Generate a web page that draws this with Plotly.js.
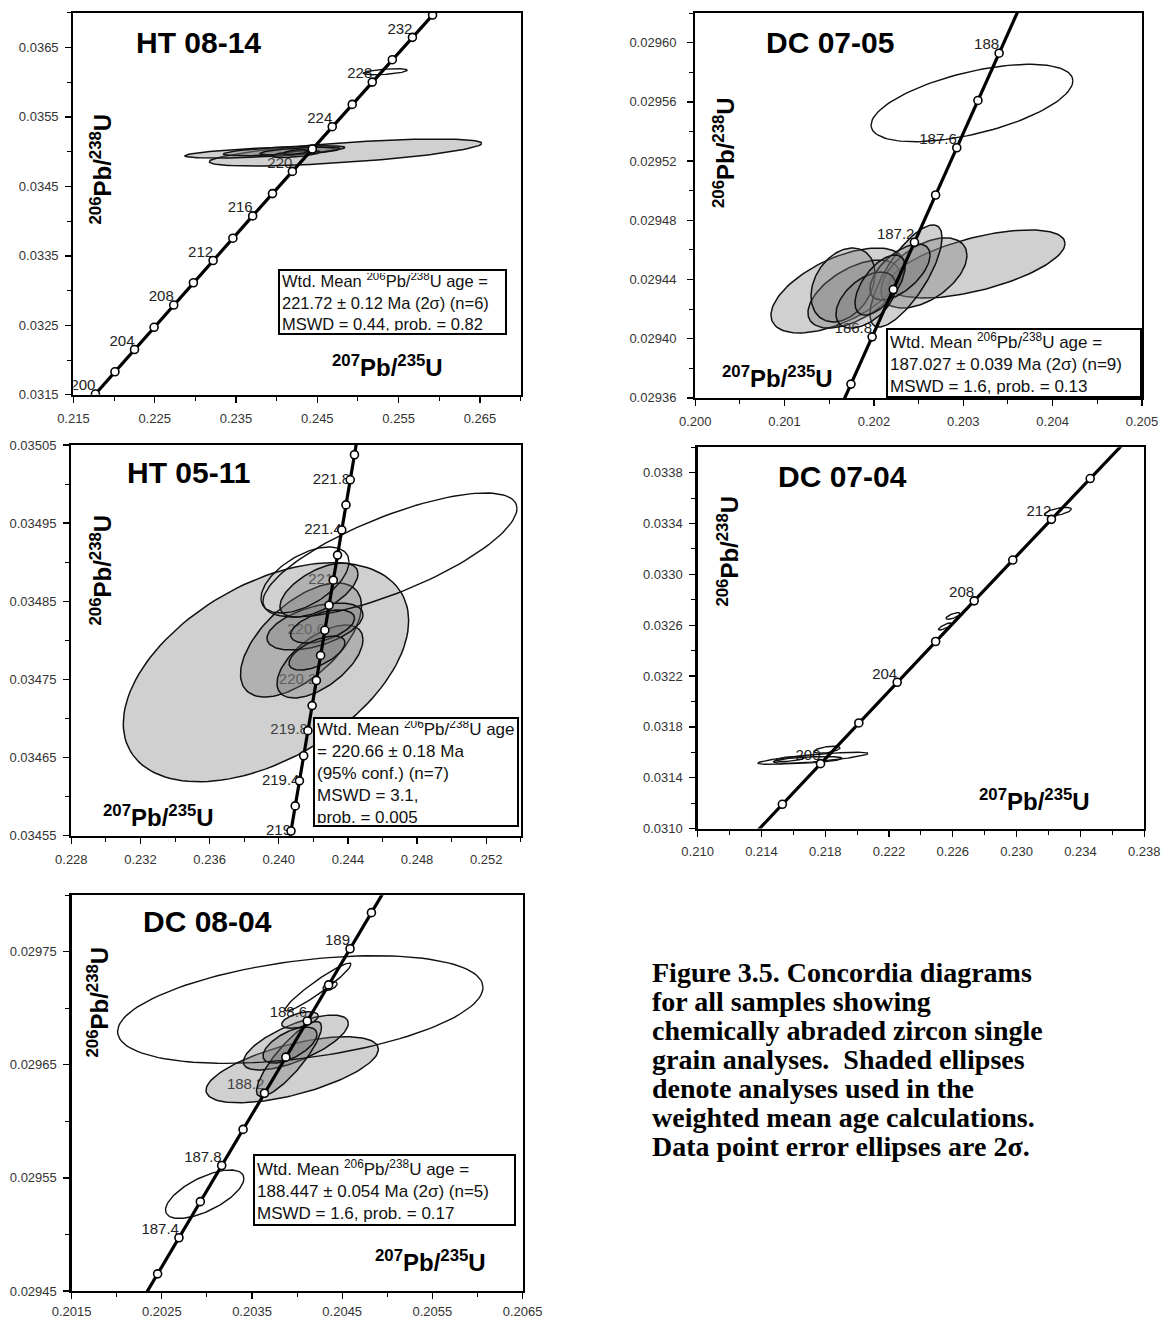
<!DOCTYPE html>
<html><head><meta charset="utf-8">
<script src="https://cdn.plot.ly/plotly-3.0.1.min.js"></script>
<style>html,body{margin:0;padding:0;background:#fff}#chart{width:1163px;height:1319px}</style>
</head><body><div id="chart"></div>
<script>
// ---------------- DATA ----------------
// HT 08-14 concordia (age in Ma, 207Pb/235U, 206Pb/238U)
const ht0814Ages = [200,202,204,206,208,210,212,214,216,218,220,222,224,226,228,230,232,234];
const ht0814X = [0.2177075,0.2201084,0.2225140,0.2249244,0.2273394,0.2297594,0.2321840,0.2346135,0.2370477,0.2394866,0.2419305,0.2443792,0.2468329,0.2492911,0.2517543,0.2542224,0.2566953,0.2591729];
const ht0814Y = [0.031511,0.031831,0.032151,0.032472,0.032792,0.033113,0.033433,0.033754,0.034075,0.034396,0.034716,0.035038,0.035359,0.035680,0.036001,0.036323,0.036645,0.036966];
const ht0814Labels = [200,204,208,212,216,220,224,228,232];
// HT 08-14 ellipses (centre, half-widths, correlation)
const ht0814ShadedCx = [0.248469,0.237952,0.240929,0.242872,0.242356,0.242380];
const ht0814ShadedCy = [0.0349873,0.0349873,0.0350132,0.0350089,0.0349657,0.0349945];
const ht0814ShadedSx = [0.016753,0.009225,0.007478,0.004920,0.002952,0.001476];
const ht0814ShadedSy = [0.0001943,0.0000792,0.0000720,0.0000576,0.0000504,0.0000360];
const ht0814ShadedRho = [0.68,0.6,0.65,0.6,0.6,0.5];
const ht0814OpenCx = [0.253364];
const ht0814OpenCy = [0.0361503];
const ht0814OpenSx = [0.002706];
const ht0814OpenSy = [0.0000432];
const ht0814OpenRho = [0.5];

// DC 07-05
const dc0705Ages = [186.4,186.6,186.8,187.0,187.2,187.4,187.6,187.8,188.0,188.2];
const dc0705X = [0.2015063,0.2017430,0.2019797,0.2022165,0.2024534,0.2026902,0.2029271,0.2031641,0.2034011,0.2036381];
const dc0705Y = [0.02933738,0.02936932,0.02940126,0.02943320,0.02946515,0.02949709,0.02952903,0.02956098,0.02959292,0.02962486];
const dc0705Labels = [186.8,187.2,187.6,188.0];
const dc0705ShadedCx = [0.203154,0.201598,0.201777,0.202560,0.202359,0.201654,0.202292,0.201911,0.202068];
const dc0705ShadedCy = [0.0294505,0.0294326,0.0294302,0.0294444,0.0294424,0.0294363,0.0294451,0.0294261,0.0294363];
const dc0705ShadedSx = [0.000985,0.000750,0.000515,0.000481,0.000403,0.000358,0.000336,0.000336,0.000280];
const dc0705ShadedSy = [0.0000230,0.0000287,0.0000230,0.0000237,0.0000345,0.0000250,0.0000189,0.0000189,0.0000203];
const dc0705ShadedRho = [0.6,0.58,0.55,0.5,0.75,0.3,0.6,0.5,0.6];
const dc0705OpenCx = [0.203097];
const dc0705OpenCy = [0.02955926];
const dc0705OpenSx = [0.001129];
const dc0705OpenSy = [0.00002615];
const dc0705OpenRho = [0.57];

// HT 05-11
const ht0511Ages = [218.8,219.0,219.2,219.4,219.6,219.8,220.0,220.2,220.4,220.6,220.8,221.0,221.2,221.4,221.6,221.8,222.0,222.2];
const ht0511X = [0.24046361,0.24070796,0.24095237,0.24119682,0.24144133,0.24168587,0.24193047,0.24217511,0.24241981,0.24266456,0.24290935,0.24315418,0.24339907,0.24364400,0.24388899,0.24413402,0.24437910,0.24462422];
const ht0511Y = [0.03452391,0.03455601,0.03458811,0.03462021,0.03465231,0.03468442,0.03471652,0.03474862,0.03478072,0.03481283,0.03484493,0.03487703,0.03490913,0.03494123,0.03497334,0.03500544,0.03503754,0.03506964];
const ht0511Labels = [219.0,219.4,219.8,220.2,220.6,221.0,221.4,221.8];
const ht0511ShadedCx = [0.239260,0.241285,0.242384,0.242095,0.242326,0.242534,0.242211];
const ht0511ShadedCy = [0.03475924,0.03480045,0.03477293,0.03481773,0.03486444,0.03481773,0.03478381];
const ht0511ShadedSx = [0.008253,0.003499,0.002487,0.002776,0.002256,0.001851,0.001619];
const ht0511ShadedSy = [0.00014013,0.00007295,0.00004671,0.00003007,0.00003455,0.00002112,0.00002176];
const ht0511ShadedRho = [0.47,0.6,0.6,0.5,0.6,0.5,0.6];
const ht0511OpenCx = [0.246433,0.241517];
const ht0511OpenCy = [0.03490923,0.03487723];
const ht0511OpenSx = [0.007345,0.002545];
const ht0511OpenSy = [0.00007935,0.00004223];
const ht0511OpenRho = [0.75,0.55];

// DC 07-04
const dc0704Ages = [196,198,200,202,204,206,208,210,212,214,216];
const dc0704X = [0.2129199,0.2153114,0.2177075,0.2201084,0.2225140,0.2249244,0.2273394,0.2297594,0.2321840,0.2346135,0.2370477];
const dc0704Y = [0.0308714,0.0311913,0.031511,0.031831,0.032151,0.032472,0.032792,0.033113,0.033433,0.033754,0.034075];
const dc0704Labels = [200,204,208,212];
const dc0704OpenCx = [0.232596,0.226013,0.225511,0.217235,0.216903,0.218113,0.215793];
const dc0704OpenCy = [0.0334933,0.0326727,0.0325901,0.0315531,0.0315397,0.0316208,0.0315476];
const dc0704OpenSx = [0.000840,0.000439,0.000408,0.003448,0.002150,0.000815,0.000900];
const dc0704OpenSy = [0.0000338,0.0000260,0.0000275,0.0000472,0.0000275,0.0000275,0.0000200];
const dc0704OpenRho = [0.6,0.7,0.8,0.8,0.5,0.5,0.5];

// DC 08-04
const dc0804Ages = [187.0,187.2,187.4,187.6,187.8,188.0,188.2,188.4,188.6,188.8,189.0,189.2,189.4];
const dc0804X = [0.2022165,0.2024534,0.2026902,0.2029271,0.2031641,0.2034011,0.2036381,0.2038753,0.2041124,0.2043496,0.2045869,0.2048241,0.2050614];
const dc0804Y = [0.0294332,0.02946515,0.02949709,0.02952903,0.02956098,0.02959292,0.02962486,0.02965681,0.02968875,0.0297207,0.02975264,0.02978458,0.02981653];
const dc0804Labels = [187.4,187.8,188.2,188.6,189.0];
const dc0804ShadedCx = [0.2039457,0.2039856,0.2039102,0.2039213,0.2040322];
const dc0804ShadedCy = [0.02964567,0.0296697,0.0296551,0.0296675,0.0296896];
const dc0804ShadedSx = [0.0009557,0.000582,0.000360,0.000299,0.000203];
const dc0804ShadedSy = [0.0000292,0.0000243,0.0000332,0.0000159,0.0000073];
const dc0804ShadedRho = [0.62,0.7,0.85,0.6,0.5];
const dc0804OpenCx = [0.2040355,0.2029756,0.2042317,0.2043655];
const dc0804OpenCy = [0.0296989,0.0295356,0.0297188,0.0297197];
const dc0804OpenSx = [0.0020255,0.0004346,0.000366,0.000078];
const dc0804OpenSy = [0.0000476,0.0000214,0.0000212,0.0000040];
const dc0804OpenRho = [0.41,0.65,0.95,0.5];

// ---------------- BUILD ----------------
const W = 1163, H = 1319;
const PX = v => v / W;
const PY = v => 1 - v / H;
const FONT = 'Arial, "Liberation Sans", sans-serif';
const SERIF = '"Liberation Serif", "Times New Roman", serif';

function ellipse(cx, cy, sx, sy, r) {
  const xs = [], ys = [], k = Math.sqrt(1 - r * r);
  for (let i = 0; i <= 120; i++) {
    const t = 2 * Math.PI * i / 120;
    xs.push(cx + sx * Math.cos(t));
    ys.push(cy + sy * (r * Math.cos(t) + k * Math.sin(t)));
  }
  return [xs, ys];
}

const traces = [];
function panel(sfx, ages, X, Y, labels, labelPos, shaded, open) {
  const xa = 'x' + sfx, ya = 'y' + sfx;
  const lx = [], ly = [], lt = [];
  labels.forEach(a => { const i = ages.indexOf(a); lx.push(X[i]); ly.push(Y[i]); lt.push(String(a)); });
  traces.push({type:'scatter', mode:'text', x:lx, y:ly, text:lt, textposition:labelPos,
    textfont:{family:FONT, size:15, color:'#222'}, xaxis:xa, yaxis:ya, hoverinfo:'skip', cliponaxis:true});
  if (shaded) {
    for (let i = 0; i < shaded.cx.length; i++) {
      const [ex, ey] = ellipse(shaded.cx[i], shaded.cy[i], shaded.sx[i], shaded.sy[i], shaded.rho[i]);
      traces.push({type:'scatter', mode:'lines', x:ex, y:ey, fill:'toself', fillcolor:'rgba(120,120,120,0.35)',
        line:{color:'#111', width:1.5}, xaxis:xa, yaxis:ya, hoverinfo:'skip'});
    }
  }
  if (open) {
    for (let i = 0; i < open.cx.length; i++) {
      const [ex, ey] = ellipse(open.cx[i], open.cy[i], open.sx[i], open.sy[i], open.rho[i]);
      traces.push({type:'scatter', mode:'lines', x:ex, y:ey,
        line:{color:'#111', width:1.4}, xaxis:xa, yaxis:ya, hoverinfo:'skip'});
    }
  }
  traces.push({type:'scatter', mode:'lines+markers', x:X, y:Y, xaxis:xa, yaxis:ya,
    line:{color:'#000', width:3.2}, marker:{symbol:'circle', size:8, color:'#fff', line:{color:'#000', width:1.6}},
    hoverinfo:'skip', cliponaxis:true});
}

panel('', ht0814Ages, ht0814X, ht0814Y, ht0814Labels, 'top left',
  {cx:ht0814ShadedCx, cy:ht0814ShadedCy, sx:ht0814ShadedSx, sy:ht0814ShadedSy, rho:ht0814ShadedRho},
  {cx:ht0814OpenCx, cy:ht0814OpenCy, sx:ht0814OpenSx, sy:ht0814OpenSy, rho:ht0814OpenRho});
panel('2', dc0705Ages, dc0705X, dc0705Y, dc0705Labels, 'top left',
  {cx:dc0705ShadedCx, cy:dc0705ShadedCy, sx:dc0705ShadedSx, sy:dc0705ShadedSy, rho:dc0705ShadedRho},
  {cx:dc0705OpenCx, cy:dc0705OpenCy, sx:dc0705OpenSx, sy:dc0705OpenSy, rho:dc0705OpenRho});
panel('3', ht0511Ages, ht0511X, ht0511Y, ht0511Labels, 'middle left',
  {cx:ht0511ShadedCx, cy:ht0511ShadedCy, sx:ht0511ShadedSx, sy:ht0511ShadedSy, rho:ht0511ShadedRho},
  {cx:ht0511OpenCx, cy:ht0511OpenCy, sx:ht0511OpenSx, sy:ht0511OpenSy, rho:ht0511OpenRho});
panel('4', dc0704Ages, dc0704X, dc0704Y, dc0704Labels, 'top left', null,
  {cx:dc0704OpenCx, cy:dc0704OpenCy, sx:dc0704OpenSx, sy:dc0704OpenSy, rho:dc0704OpenRho});
panel('5', dc0804Ages, dc0804X, dc0804Y, dc0804Labels, 'top left',
  {cx:dc0804ShadedCx, cy:dc0804ShadedCy, sx:dc0804ShadedSx, sy:dc0804ShadedSy, rho:dc0804ShadedRho},
  {cx:dc0804OpenCx, cy:dc0804OpenCy, sx:dc0804OpenSx, sy:dc0804OpenSy, rho:dc0804OpenRho});

function axis(p0, p1, isX, range, dtick, mdtick, fmt, anchor, standoff) {
  const dom = isX ? [PX(p0), PX(p1)] : [PY(p1), PY(p0)];
  return {domain:dom, range:range, autorange:false, tick0:range[0], dtick:dtick, tickformat:fmt,
    ticks:'outside', ticklen:6, tickwidth:1.3, tickcolor:'#000', ticklabelstandoff:standoff,
    showline:true, mirror:true, linewidth:2.2, linecolor:'#000', showgrid:false, zeroline:false,
    minor:{tick0:range[0], dtick:mdtick, ticks:'outside', ticklen:4, tickwidth:1, tickcolor:'#000', showgrid:false},
    tickfont:{family:FONT, size:13, color:'#333'}, anchor:anchor, fixedrange:true};
}

const ann = [];
function txt(x, y, text, size, opts) {
  ann.push(Object.assign({xref:'paper', yref:'paper', x:PX(x), y:PY(y), text:text, showarrow:false,
    font:{family:FONT, size:size, color:'#000'}, xanchor:'center', yanchor:'middle'}, opts || {}));
}
function box(l, t, r, b, lines, size) {
  const bw = 2, pad = 2;
  ann.push({xref:'paper', yref:'paper', x:PX(l), y:PY(t), xanchor:'left', yanchor:'top',
    text:lines.join('<br>'), align:'left', valign:'middle', showarrow:false,
    bordercolor:'#000', borderwidth:bw, borderpad:pad, bgcolor:'#fff',
    width:(r - l) - 2 * (bw + pad), height:(b - t) - 2 * (bw + pad),
    font:{family:FONT, size:size, color:'#111'}});
}
const YT = '<b><sup>206</sup>Pb/<sup>238</sup>U</b>';
const XT = '<b><sup>207</sup>Pb/<sup>235</sup>U</b>';
const WM = 'Wtd. Mean <sup>206</sup>Pb/<sup>238</sup>U age';

// panel 1
txt(198.5, 42.5, '<b>HT 08-14</b>', 30);
txt(100.5, 169, YT, 24, {textangle:-90});
txt(387.7, 366, XT, 24);
box(277.7, 269.3, 506.8, 335, [WM + ' =', '221.72 ± 0.12 Ma (2σ) (n=6)', 'MSWD = 0.44, prob. = 0.82'], 16.5);
// panel 2
txt(829.5, 42, '<b>DC 07-05</b>', 30);
txt(724, 153, YT, 24, {textangle:-90});
txt(777.5, 377.5, XT, 24);
box(885.6, 327.7, 1142, 398, [WM + ' =', '187.027 ± 0.039 Ma (2σ) (n=9)', 'MSWD = 1.6, prob. = 0.13'], 17);
// panel 3
txt(188.3, 472.5, '<b>HT 05-11</b>', 30);
txt(100.5, 570, YT, 24, {textangle:-90});
txt(158.8, 815.8, XT, 24);
box(312.5, 717.3, 518.6, 827.3, [WM, '= 220.66 ± 0.18 Ma', '(95% conf.) (n=7)', 'MSWD = 3.1,', 'prob. = 0.005'], 17);
// panel 4
txt(842, 476.7, '<b>DC 07-04</b>', 30);
txt(727.8, 550.8, YT, 24, {textangle:-90});
txt(1034.5, 800, XT, 24);
// panel 5
txt(207.8, 921.7, '<b>DC 08-04</b>', 30);
txt(97, 1002.5, YT, 24, {textangle:-90});
txt(430, 1261, XT, 24);
box(253.4, 1154.3, 515.9, 1226.7, [WM + ' =', '188.447 ± 0.054 Ma (2σ) (n=5)', 'MSWD = 1.6, prob. = 0.17'], 17);

// caption
const caption = ['Figure 3.5. Concordia diagrams', 'for all samples showing', 'chemically abraded zircon single',
  'grain analyses.  Shaded ellipses', 'denote analyses used in the', 'weighted mean age calculations.',
  'Data point error ellipses are 2σ.'];
caption.forEach((s, i) => txt(650, 972 + 29 * i, '<b>' + s + '</b>', 28,
  {xanchor:'left', font:{family:SERIF, size:28, color:'#000'}}));

const layout = {
  width:W, height:H, margin:{l:0, r:0, t:0, b:0}, paper_bgcolor:'#fff', plot_bgcolor:'#fff',
  showlegend:false, hovermode:false,
  xaxis:  axis(73.4, 520.6, true, [0.215, 0.270], 0.01, 0.005, '.3f', 'y', 4),
  yaxis:  axis(12.7, 394.8, false, [0.0315, 0.0370], 0.001, 0.0005, '.4f', 'x', 4),
  xaxis2: axis(695.2, 1142.0, true, [0.200, 0.205], 0.001, 0.0005, '.3f', 'y2', 4),
  yaxis2: axis(13.1, 397.9, false, [0.02936, 0.02962], 0.00004, 0.00002, '.5f', 'x2', 8),
  xaxis3: axis(71.3, 520.8, true, [0.228, 0.254], 0.004, 0.002, '.3f', 'y3', 4),
  yaxis3: axis(445, 835.7, false, [0.03455, 0.03505], 0.0001, 0.00005, '.5f', 'x3', 4),
  xaxis4: axis(697.6, 1144.2, true, [0.210, 0.238], 0.004, 0.002, '.3f', 'y4', 4),
  yaxis4: axis(447.3, 828.6, false, [0.0310, 0.0340], 0.0004, 0.0002, '.4f', 'x4', 4),
  xaxis5: axis(71.6, 522.6, true, [0.2015, 0.2065], 0.001, 0.0005, '.4f', 'y5', 1),
  yaxis5: axis(895.2, 1291.0, false, [0.02945, 0.02980], 0.0001, 0.00005, '.5f', 'x5', 4),
  annotations: ann
};

Plotly.newPlot('chart', traces, layout, {staticPlot:true, displayModeBar:false});
</script></body></html>
